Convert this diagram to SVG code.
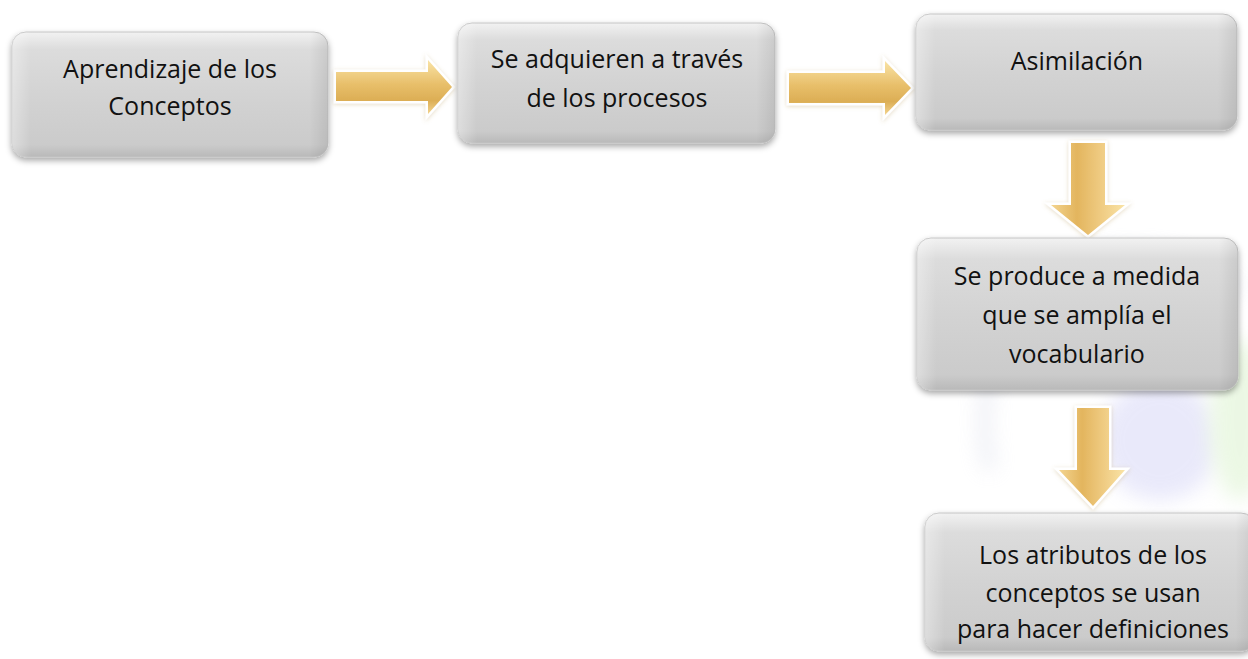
<svg xmlns="http://www.w3.org/2000/svg" width="1248" height="659" viewBox="0 0 1248 659">
<defs>
<linearGradient id="boxFill" x1="0" y1="0" x2="0" y2="1">
<stop offset="0" stop-color="#f2f2f2"/>
<stop offset="0.14" stop-color="#dcdcdc"/>
<stop offset="0.5" stop-color="#d3d3d3"/>
<stop offset="0.9" stop-color="#cbcbcb"/>
<stop offset="1" stop-color="#b9b9b9"/>
</linearGradient>
<linearGradient id="boxSide" x1="0" y1="0" x2="1" y2="0">
<stop offset="0" stop-color="#ffffff" stop-opacity="0.35"/>
<stop offset="0.06" stop-color="#ffffff" stop-opacity="0"/>
<stop offset="0.94" stop-color="#000000" stop-opacity="0"/>
<stop offset="1" stop-color="#000000" stop-opacity="0.08"/>
</linearGradient>
<linearGradient id="arrowH" x1="0" y1="0" x2="0" y2="1">
<stop offset="0" stop-color="#f9e3a6"/>
<stop offset="0.45" stop-color="#e8bf6a"/>
<stop offset="0.75" stop-color="#dcae55"/>
<stop offset="1" stop-color="#f3d48f"/>
</linearGradient>
<linearGradient id="arrowV" x1="0" y1="0" x2="1" y2="0">
<stop offset="0" stop-color="#f3d48f"/>
<stop offset="0.35" stop-color="#e3b55e"/>
<stop offset="0.7" stop-color="#f0cd85"/>
<stop offset="1" stop-color="#f9e3a6"/>
</linearGradient>
<filter id="shadow" x="-10%" y="-10%" width="120%" height="130%">
<feDropShadow dx="0" dy="3" stdDeviation="3" flood-color="#000" flood-opacity="0.35"/>
</filter>
<filter id="glow" x="-20%" y="-20%" width="140%" height="140%">
<feDropShadow dx="0" dy="1" stdDeviation="2" flood-color="#b89a5a" flood-opacity="0.35"/>
</filter>
<filter id="blur8" x="-50%" y="-50%" width="200%" height="200%"><feGaussianBlur stdDeviation="10"/></filter>
</defs>
<style>
.box{fill:url(#boxFill);stroke:#c4c4c4;stroke-width:1;filter:url(#shadow)}
.bevel{fill:url(#boxSide);stroke:none}
.lbl{font-family:"Open Sans","Liberation Sans",sans-serif;font-size:25px;fill:#111;text-anchor:middle}
.ah{fill:url(#arrowH);stroke:#ffffff;stroke-width:5;stroke-linejoin:miter;paint-order:stroke;filter:url(#glow)}
.av{fill:url(#arrowV);stroke:#ffffff;stroke-width:5;stroke-linejoin:miter;paint-order:stroke;filter:url(#glow)}
</style>
<rect width="1248" height="659" fill="#ffffff"/>
<g id="watermark" opacity="0.3">
<ellipse cx="1160" cy="440" rx="60" ry="60" fill="#b8b8f0" filter="url(#blur8)"/>
<ellipse cx="1240" cy="420" rx="30" ry="80" fill="#bfe8a8" filter="url(#blur8)"/>
<path d="M990 470 C 975 400 990 330 1050 280 C 1110 240 1190 250 1240 290" fill="none" stroke="#c8cce0" stroke-width="14" filter="url(#blur8)"/>
</g>
<g id="connectors">
<path class="ah" d="M336 72 L428 72 L428 60 L452 87 L428 114 L428 101 L336 101 Z"/>
<path class="ah" d="M789 73 L885 73 L885 61 L911 88 L885 115 L885 103 L789 103 Z"/>
<path class="av" d="M1071 143 L1105 143 L1105 205 L1125 205 L1088 235 L1051 205 L1071 205 Z"/>
<path class="av" d="M1077 408 L1109 408 L1109 470 L1125 470 L1093 506 L1059 470 L1077 470 Z"/>
</g>
<g id="node1">
<rect class="box" x="12" y="32" width="316" height="125" rx="14"/>
<rect class="bevel" x="12" y="32" width="316" height="125" rx="14"/>
<text class="lbl" x="170" y="78">Aprendizaje de los</text>
<text class="lbl" x="170" y="115">Conceptos</text>
</g>
<g id="node2">
<rect class="box" x="458" y="23" width="317" height="120" rx="14"/>
<rect class="bevel" x="458" y="23" width="317" height="120" rx="14"/>
<text class="lbl" x="617" y="68">Se adquieren a través</text>
<text class="lbl" x="617" y="107">de los procesos</text>
</g>
<g id="node3">
<rect class="box" x="916" y="14" width="321" height="116" rx="14"/>
<rect class="bevel" x="916" y="14" width="321" height="116" rx="14"/>
<text class="lbl" x="1077" y="70">Asimilación</text>
</g>
<g id="node4">
<rect class="box" x="917" y="238" width="321" height="152" rx="14"/>
<rect class="bevel" x="917" y="238" width="321" height="152" rx="14"/>
<text class="lbl" x="1077" y="285">Se produce a medida</text>
<text class="lbl" x="1077" y="324">que se amplía el</text>
<text class="lbl" x="1077" y="363">vocabulario</text>
</g>
<g id="node5">
<rect class="box" x="925" y="513" width="330" height="138" rx="14"/>
<rect class="bevel" x="925" y="513" width="330" height="138" rx="14"/>
<text class="lbl" x="1093" y="564">Los atributos de los</text>
<text class="lbl" x="1093" y="602">conceptos se usan</text>
<text class="lbl" x="1093" y="638">para hacer definiciones</text>
</g>
</svg>
